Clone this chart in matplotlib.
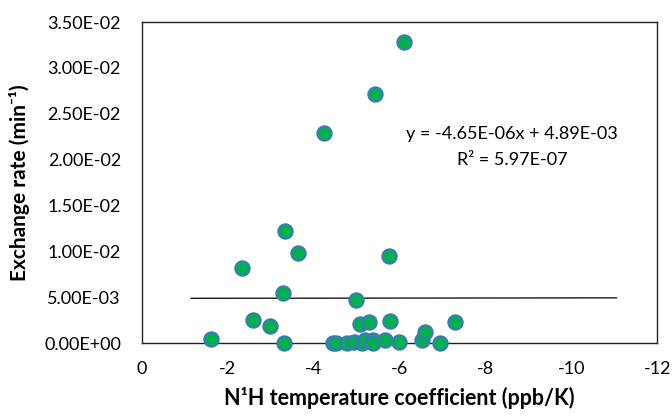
import matplotlib
matplotlib.use("Agg")
import matplotlib.pyplot as plt
import numpy as np
from matplotlib.ticker import FuncFormatter

plt.rcParams['font.family'] = ['Lato', 'DejaVu Sans']
plt.rcParams['axes.unicode_minus'] = False

# temperature coefficient (ppb/K) vs exchange rate (min-1)
temp_coef = [-6.11, -5.43, -4.24, -3.33, -3.64, -2.33, -5.76, -3.29, -4.99,
             -2.58, -2.98, -1.62, -3.31, -4.46, -4.52, -4.77, -4.93, -5.08,
             -5.30, -5.13, -5.20, -5.38, -5.38, -5.66, -5.77, -5.98, -6.53,
             -6.60, -6.95, -7.30]
exch_rate = [0.03283, 0.02714, 0.02286, 0.01225, 0.00986, 0.00822, 0.00946,
             0.00548, 0.00476, 0.00250, 0.00188, 0.00050, 0.0, 0.0, 0.0,
             0.0, 0.0001, 0.00212, 0.00226, 0.0, 0.0004, 0.0004, 0.0,
             0.0004, 0.00242, 0.0001, 0.00030, 0.00120, 0.0, 0.00226]

slope = -4.65e-06
intercept = 4.89e-03
r2 = 5.97e-07
fit_x = np.array([-1.15, -11.05])

fig = plt.figure(figsize=(6.72, 4.17), dpi=100)
ax = fig.add_axes([0.211, 0.177, 0.767, 0.77])

ax.plot(fit_x, slope * fit_x + intercept, color='black', lw=0.9, zorder=2)
ax.scatter(temp_coef, exch_rate, s=110, c='#00B050', edgecolors='#4472C4',
           linewidths=1.3, zorder=3, clip_on=False)

ax.set_xlim(0, -12)
ax.set_ylim(0, 0.035)
ax.set_xticks(np.arange(0, -13, -2))
ax.set_yticks(np.arange(0, 0.0351, 0.005))
ax.yaxis.set_major_formatter(FuncFormatter(lambda v, p: f"{v:.2E}"))
ax.xaxis.set_major_formatter(FuncFormatter(lambda v, p: f"{v:g}"))
ax.tick_params(length=0, labelsize=13, pad=15)
ax.tick_params(axis='x', pad=13)
for sp in ax.spines.values():
    sp.set_color('#222222')
    sp.set_linewidth(1.0)

ax.set_xlabel('N¹H temperature coefficient (ppb/K)', fontsize=15.5,
              fontweight='bold', labelpad=7)
ax.set_ylabel('Exchange rate (min⁻¹)', fontsize=15, fontweight='bold',
              labelpad=10)

fig.text(512 / 672, 1 - 134 / 417, f"y = {slope:.2E}x + {intercept:.2E}",
         ha='center', va='center', fontsize=13)
fig.text(512 / 672, 1 - 160 / 417, f"R² = {r2:.2E}", ha='center',
         va='center', fontsize=13)

fig.savefig('out.png', dpi=100)
